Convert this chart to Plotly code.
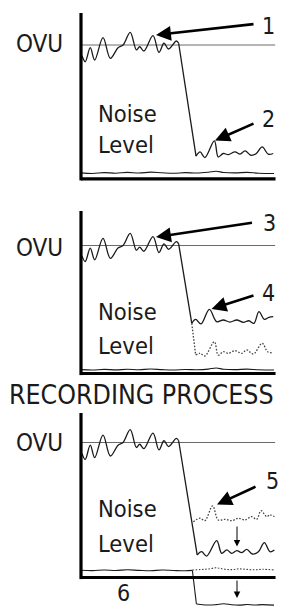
import plotly.graph_objects as go

# ---------------- data (levels: bottom axis = 0, 0VU reference = 100; time 0..100) ----------------
OVU_LEVEL = 100

SIG_X = [0.5, 2.2, 4.8, 7.1, 11.4, 15.2, 19.2, 21.8, 25.5, 28.7, 30.4, 32.6, 37.3, 40.4, 43.0, 45.4, 49.4, 50.6]
SIG_Y = [91.9, 87.5, 98.0, 88.8, 105.5, 90.0, 98.0, 100.0, 109.5, 96.3, 98.7, 95.5, 107.0, 94.5, 101.3, 97.0, 103.0, 101.3]

# panel 1 : noise after the signal stops
N1_X = [59.6, 61.7, 64.2, 69.1, 71.1, 73.7, 76.3, 79.8, 82.4, 85.0, 88.1, 90.7, 93.9, 97.0, 99.6]
N1_Y = [16.9, 20.1, 15.9, 28.3, 16.3, 18.9, 18.1, 20.1, 18.4, 20.8, 17.6, 18.7, 23.8, 18.4, 18.9]

# panel 2 : raised noise (solid) and original noise (dotted)
N2_X = [57.4, 59.4, 62.2, 66.5, 70.3, 73.7, 77.2, 80.7, 84.1, 87.0, 89.6, 92.2, 95.0, 97.4, 99.6]
N2_Y = [39.2, 42.3, 38.7, 50.1, 40.5, 41.8, 40.2, 41.8, 40.0, 41.2, 39.2, 48.3, 42.3, 43.9, 44.4]
D2_X = [59.4, 61.7, 64.2, 69.1, 71.1, 73.7, 76.3, 79.8, 83.3, 85.9, 89.3, 93.9, 96.7, 99.6]
D2_Y = [14.4, 15.8, 13.7, 24.8, 14.4, 17.0, 15.8, 17.8, 15.8, 18.4, 15.2, 23.6, 17.0, 16.2]

# panel 3 : reduced noise (solid) and raised noise (dotted)
N3_X = [60.2, 62.5, 65.1, 70.3, 72.9, 75.5, 78.1, 80.7, 83.3, 85.9, 88.8, 91.9, 95.0, 97.9, 100.2]
N3_Y = [16.7, 19.1, 15.9, 27.3, 17.9, 20.4, 17.9, 19.9, 18.4, 20.9, 17.4, 19.1, 25.8, 19.1, 20.4]
D3_X = [58.2, 61.7, 64.2, 68.2, 71.1, 74.6, 78.1, 81.5, 85.0, 88.4, 91.0, 93.3, 96.2, 97.9, 100.2]
D3_Y = [41.3, 43.9, 42.1, 53.0, 42.6, 43.1, 42.1, 43.9, 42.6, 45.1, 43.1, 49.5, 45.1, 46.3, 45.1]

# tape noise floor
FL_X = [0, 6, 12, 18, 24, 30, 36, 42, 48, 54, 60, 66, 70, 74, 80, 86, 92, 100]
F1_Y = [4.4, 4.0, 4.6, 4.2, 4.8, 4.3, 5.0, 4.5, 4.1, 4.6, 4.3, 4.9, 5.6, 4.7, 4.4, 4.8, 4.2, 4.0]
F2_Y = [3.0, 2.7, 3.2, 2.8, 3.3, 2.9, 3.5, 3.0, 2.7, 3.1, 2.9, 3.4, 4.3, 3.3, 3.0, 3.4, 2.9, 2.7]
F3A_X = [0, 6, 12, 18, 24, 30, 36, 42, 48, 54, 57.7]
F3A_Y = [5.4, 5.1, 5.6, 5.2, 5.7, 5.3, 5.0, 5.5, 5.2, 5.0, 5.3]
F3B_X = [59.8, 62, 66, 70, 74, 78, 82, 86, 90, 94, 100]
F3B_Y = [-19.6, -20.0, -20.4, -20.1, -19.5, -20.2, -20.5, -20.0, -20.4, -20.1, -20.5]
F3C_X = [57.7, 62, 66, 70, 74, 78, 82, 86, 90, 94, 100]
F3C_Y = [5.5, 5.9, 6.3, 7.2, 6.2, 5.8, 6.4, 6.0, 5.7, 6.1, 5.6]

# ---------------- layout geometry (pixels) ----------------
W, H = 287, 608
X0_PX, PX_PER_X = 81.0, 1.93
PANELS = [dict(top=13, ovu=45, bottom=178.8),
          dict(top=211, ovu=245.5, bottom=373.5),
          dict(top=413, ovu=442.5, bottom=577.5)]

INK = "#1a1a1a"
FONT = "DejaVu Sans Condensed, Liberation Sans Narrow, Roboto, sans-serif"

fig = go.Figure()
layout = dict(width=W, height=H, margin=dict(l=0, r=0, t=0, b=0),
              paper_bgcolor="white", plot_bgcolor="rgba(0,0,0,0)",
              showlegend=False)
shapes, annots = [], []

xr = [(0 - X0_PX) / PX_PER_X, (W - X0_PX) / PX_PER_X]
for i, p in enumerate(PANELS, start=1):
    f = OVU_LEVEL / (p["bottom"] - p["ovu"])
    yr = [(p["bottom"] - H) * f, p["bottom"] * f]
    sfx = "" if i == 1 else str(i)
    layout["xaxis" + sfx] = dict(domain=[0, 1], range=xr, visible=False, anchor="y" + sfx, fixedrange=True)
    layout["yaxis" + sfx] = dict(domain=[0, 1], range=yr, visible=False, anchor="x" + sfx, fixedrange=True)
    p["f"] = f
    p["xref"], p["yref"] = "x" + sfx, "y" + sfx
    # axes frame
    top_lvl = (p["bottom"] - p["top"]) * f
    shapes.append(dict(type="line", xref=p["xref"], yref=p["yref"], x0=0, x1=0,
                       y0=-1.6 * f, y1=top_lvl, line=dict(color="black", width=3.2)))
    shapes.append(dict(type="line", xref=p["xref"], yref=p["yref"], x0=0, x1=100.8,
                       y0=0, y1=0, line=dict(color="black", width=3.2)))
    # 0VU reference line
    shapes.append(dict(type="line", xref=p["xref"], yref=p["yref"], x0=0, x1=100.6,
                       y0=OVU_LEVEL, y1=OVU_LEVEL, layer="below", line=dict(color="#6a6a6a", width=1)))


def add(x, y, i, dash="solid", shape="spline", width=1.3, color=INK):
    sfx = "" if i == 1 else str(i)
    fig.add_trace(go.Scatter(x=x, y=y, mode="lines", xaxis="x" + sfx, yaxis="y" + sfx,
                             line=dict(color=color, width=width, dash=dash, shape=shape),
                             hoverinfo="skip"))


DOT = "1.6px,1.6px"
# panel 1
add(SIG_X, SIG_Y, 1)
add([SIG_X[-1], N1_X[0]], [SIG_Y[-1], N1_Y[0]], 1, shape="linear")
add(N1_X, N1_Y, 1)
add(FL_X, F1_Y, 1, width=1.1)
# panel 2
add(SIG_X, SIG_Y, 2)
add([SIG_X[-1], N2_X[0]], [SIG_Y[-1], N2_Y[0]], 2, shape="linear")
add(N2_X, N2_Y, 2)
add([N2_X[0], D2_X[0]], [N2_Y[0], D2_Y[0]], 2, dash=DOT, shape="linear", color="#444")
add(D2_X, D2_Y, 2, dash=DOT, color="#444")
add(FL_X, F2_Y, 2, width=1.1)
# panel 3
add(SIG_X, SIG_Y, 3)
add([SIG_X[-1], N3_X[0]], [SIG_Y[-1], N3_Y[0]], 3, shape="linear")
add(N3_X, N3_Y, 3)
add(D3_X, D3_Y, 3, dash=DOT, color="#444")
add(F3A_X, F3A_Y, 3, width=1.1)
add([F3A_X[-1], F3B_X[0]], [F3A_Y[-1], F3B_Y[0]], 3, shape="linear", width=1.1)
add(F3B_X, F3B_Y, 3, width=1.1)
add(F3C_X, F3C_Y, 3, dash=DOT, color="#444", width=1.1)


def px2lvl(p, py):
    return (p["bottom"] - py) * p["f"]


def pxx(px):
    return (px - X0_PX) / PX_PER_X


# big arrows: (panel, tail px, tip px)
BIG_ARROWS = [(0, (255, 24), (156, 35)), (0, (255, 123), (215, 140.5)),
              (1, (253.5, 222.5), (156, 237)), (1, (255, 295), (211.5, 309)),
              (2, (257, 486), (217, 504.5))]
for pi, tail, tip in BIG_ARROWS:
    p = PANELS[pi]
    annots.append(dict(xref=p["xref"], yref=p["yref"], axref=p["xref"], ayref=p["yref"],
                       x=pxx(tip[0]), y=px2lvl(p, tip[1]), ax=pxx(tail[0]), ay=px2lvl(p, tail[1]),
                       text="", showarrow=True, arrowhead=2, arrowsize=1.15, arrowwidth=2.6,
                       arrowcolor="black"))
# small arrows in panel 3
for tail, tip in [((237, 525), (237, 546.5)), ((237, 579), (237, 598))]:
    p = PANELS[2]
    annots.append(dict(xref=p["xref"], yref=p["yref"], axref=p["xref"], ayref=p["yref"],
                       x=pxx(tip[0]), y=px2lvl(p, tip[1]), ax=pxx(tail[0]), ay=px2lvl(p, tail[1]),
                       text="", showarrow=True, arrowhead=2, arrowsize=1.3, arrowwidth=1,
                       arrowcolor="black"))


def text(t, px, py, size, xanchor="center", yanchor="middle"):
    annots.append(dict(xref="paper", yref="paper", x=px / W, y=1 - py / H, text=t,
                       showarrow=False, xanchor=xanchor, yanchor=yanchor,
                       font=dict(family=FONT, size=size, color=INK)))


for oy in [44.5, 247.5, 442.5]:
    text("OVU", 39.5, oy, 24)
for ny, ly in [(114, 145), (312.3, 345.8), (509, 544)]:
    text("Noise", 96, ny, 23.5, "left")
    text("Level", 96, ly, 23.5, "left")
text("RECORDING PROCESS", 141.5, 394, 26.5)
for t, x, y in [("1", 268, 26), ("2", 268.5, 119), ("3", 269, 223), ("4", 268, 292.5),
                ("5", 272.5, 480.5)]:
    text(t, x, y, 23)
text("6", 123.7, 608, 23, yanchor="bottom")

layout["shapes"] = shapes
layout["annotations"] = annots
fig.update_layout(**layout)
fig.write_html("out.html", config={"displayModeBar": False},
               post_script="document.body.style.margin='0';document.body.style.padding='0';")
